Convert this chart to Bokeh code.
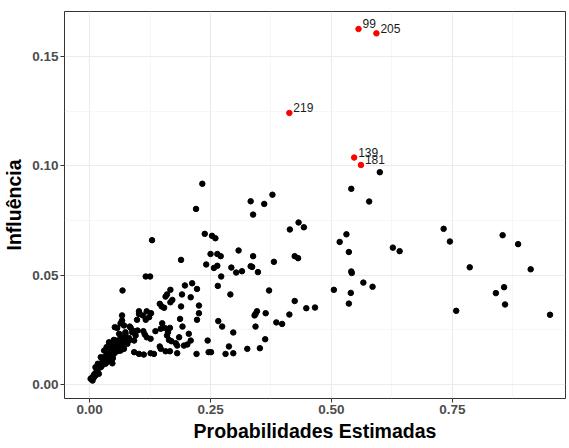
from bokeh.plotting import figure
from bokeh.models import Range1d, FixedTicker, PrintfTickFormatter, ColumnDataSource
from bokeh.core.properties import value
from bokeh.embed import file_html
from bokeh.resources import INLINE

# Estimated probabilities (x) and influence / leverage values (y)
prob = [
    0.233, 0.220, 0.333, 0.338, 0.361, 0.378, 0.238, 0.253, 0.260, 0.414,
    0.432, 0.443, 0.250, 0.264, 0.271, 0.308, 0.338, 0.241, 0.257, 0.264,
    0.293, 0.303, 0.315, 0.333, 0.336, 0.348, 0.381, 0.272, 0.265, 0.291,
    0.371, 0.424, 0.431, 0.424, 0.448, 0.466, 0.413, 0.386, 0.398, 0.343,
    0.346, 0.341, 0.364, 0.343, 0.266, 0.274, 0.297, 0.363, 0.352, 0.326,
    0.288, 0.281, 0.297, 0.244, 0.246, 0.251, 0.221, 0.209, 0.226, 0.222,
    0.226, 0.209, 0.222, 0.212, 0.541, 0.578, 0.600, 0.505, 0.517, 0.531,
    0.536, 0.541, 0.542, 0.540, 0.536, 0.566, 0.585, 0.627, 0.641, 0.732,
    0.745, 0.786, 0.758, 0.854, 0.886, 0.912, 0.840, 0.857, 0.859, 0.952,
    0.129, 0.189, 0.116, 0.125, 0.068, 0.197, 0.167, 0.160, 0.157, 0.171,
    0.167, 0.191, 0.145, 0.149, 0.154, 0.189, 0.102, 0.118, 0.127, 0.123,
    0.098, 0.116, 0.110, 0.067, 0.067, 0.150, 0.155, 0.166, 0.187, 0.192,
    0.136, 0.147, 0.162, 0.085, 0.092, 0.095, 0.111, 0.114, 0.118, 0.126,
    0.074, 0.071, 0.074, 0.067, 0.071, 0.092, 0.083, 0.160, 0.164, 0.169,
    0.205, 0.195, 0.202, 0.178, 0.181, 0.185, 0.145, 0.092, 0.102, 0.112,
    0.126, 0.133, 0.147, 0.157, 0.166, 0.181, 0.064, 0.064, 0.071, 0.083,
    0.088, 0.102, 0.099, 0.052, 0.057, 0.047, 0.074, 0.064, 0.054, 0.047,
    0.057, 0.043, 0.036, 0.030, 0.040, 0.026, 0.033, 0.023, 0.016, 0.019,
    0.009, 0.006, 0.002, 0.012, 0.050, 0.061, 0.043, 0.050, 0.061, 0.030,
    0.035, 0.023, 0.017, 0.012, 0.040, 0.071, 0.078, 0.081, 0.028, 0.038,
    0.045, 0.052, 0.058, 0.020, 0.014, 0.008, 0.004, 0.025, 0.033, 0.042,
    0.055, 0.060, 0.068, 0.048, 0.038, 0.010, 0.015,
]
infl = [
    0.0918, 0.0803, 0.0838, 0.0777, 0.0826, 0.0868, 0.0689, 0.0680, 0.0669, 0.0709,
    0.0741, 0.0719, 0.0597, 0.0597, 0.0587, 0.0613, 0.0587, 0.0549, 0.0533, 0.0543,
    0.0535, 0.0512, 0.0518, 0.0541, 0.0538, 0.0514, 0.0561, 0.0494, 0.0451, 0.0412,
    0.0430, 0.0587, 0.0578, 0.0382, 0.0349, 0.0352, 0.0320, 0.0284, 0.0277, 0.0323,
    0.0335, 0.0316, 0.0326, 0.0265, 0.0290, 0.0265, 0.0238, 0.0207, 0.0166, 0.0163,
    0.0174, 0.0140, 0.0143, 0.0201, 0.0148, 0.0148, 0.0140, 0.0201, 0.0326, 0.0296,
    0.0361, 0.0399, 0.0437, 0.0463, 0.0895, 0.0837, 0.0971, 0.0433, 0.0652, 0.0687,
    0.0606, 0.0517, 0.0510, 0.0419, 0.0370, 0.0466, 0.0447, 0.0626, 0.0610, 0.0712,
    0.0654, 0.0536, 0.0337, 0.0683, 0.0642, 0.0527, 0.0418, 0.0445, 0.0366, 0.0319,
    0.0660, 0.0570, 0.0494, 0.0494, 0.0430, 0.0453, 0.0433, 0.0412, 0.0402, 0.0387,
    0.0376, 0.0412, 0.0369, 0.0357, 0.0351, 0.0357, 0.0335, 0.0335, 0.0326, 0.0308,
    0.0296, 0.0296, 0.0316, 0.0316, 0.0293, 0.0280, 0.0259, 0.0259, 0.0300, 0.0265,
    0.0244, 0.0255, 0.0239, 0.0259, 0.0244, 0.0224, 0.0244, 0.0229, 0.0216, 0.0209,
    0.0239, 0.0216, 0.0193, 0.0178, 0.0163, 0.0201, 0.0204, 0.0224, 0.0204, 0.0198,
    0.0232, 0.0178, 0.0183, 0.0189, 0.0178, 0.0216, 0.0174, 0.0148, 0.0140, 0.0137,
    0.0143, 0.0140, 0.0163, 0.0152, 0.0152, 0.0143, 0.0155, 0.0280, 0.0270, 0.0265,
    0.0239, 0.0323, 0.0247, 0.0262, 0.0259, 0.0097, 0.0232, 0.0216, 0.0201, 0.0186,
    0.0171, 0.0155, 0.0140, 0.0125, 0.0117, 0.0102, 0.0095, 0.0079, 0.0064, 0.0049,
    0.0033, 0.0018, 0.0026, 0.0041, 0.0140, 0.0155, 0.0178, 0.0204, 0.0232, 0.0155,
    0.0171, 0.0125, 0.0095, 0.0079, 0.0193, 0.0201, 0.0186, 0.0213, 0.0110, 0.0130,
    0.0160, 0.0175, 0.0190, 0.0090, 0.0058, 0.0040, 0.0030, 0.0085, 0.0120, 0.0145,
    0.0150, 0.0200, 0.0195, 0.0120, 0.0105, 0.0048, 0.0070,
]

# Highlighted high-influence observations
obs_id = ["99", "205", "219", "139", "181"]
obs_prob = [0.556, 0.593, 0.413, 0.547, 0.561]
obs_infl = [0.1626, 0.1606, 0.1242, 0.1038, 0.1004]

x_ticks = [0.0, 0.25, 0.5, 0.75]
x_minor = [0.125, 0.375, 0.625, 0.875]
y_ticks = [0.0, 0.05, 0.10, 0.15]
y_minor = [0.025, 0.075, 0.125]

FONT = "Liberation Sans"

p = figure(
    width=569, height=448,
    x_range=Range1d(-0.052, 0.984),
    y_range=Range1d(-0.0064, 0.1706),
    output_backend="svg", toolbar_location=None,
    min_border_left=64, min_border_right=4,
    min_border_top=11, min_border_bottom=50,
    background_fill_color="white", border_fill_color="white",
)

p.outline_line_color = "#333333"
p.outline_line_width = 1

for ax, ticks, minor in ((p.xaxis, x_ticks, x_minor), (p.yaxis, y_ticks, y_minor)):
    ax.ticker = FixedTicker(ticks=ticks, minor_ticks=minor)
    ax.formatter = PrintfTickFormatter(format="%.2f")
    ax.axis_line_color = None
    ax.major_tick_line_color = "#333333"
    ax.major_tick_out = 4
    ax.major_tick_in = 0
    ax.minor_tick_line_color = None
    ax.major_label_text_font = FONT
    ax.major_label_text_font_style = "bold"
    ax.major_label_text_font_size = "13.5px"
    ax.major_label_text_color = "#4D4D4D"
    ax.major_label_standoff = 2
    ax.axis_label_text_font = FONT
    ax.axis_label_text_font_style = "bold"
    ax.axis_label_text_font_size = "19.5px"
    ax.axis_label_text_color = "black"

p.xaxis.axis_label = "Probabilidades Estimadas"
p.yaxis.axis_label = "Influência"
p.xaxis.axis_label_standoff = 3
p.yaxis.axis_label_standoff = 4

for g in (p.xgrid, p.ygrid):
    g.grid_line_color = "#EBEBEB"
    g.grid_line_width = 1.1
    g.minor_grid_line_color = "#F2F2F2"
    g.minor_grid_line_width = 0.6

src = ColumnDataSource(dict(x=prob, y=infl))
p.scatter("x", "y", source=src, size=5.5, color="black")

hi = ColumnDataSource(dict(x=obs_prob, y=obs_infl, label=obs_id))
p.scatter("x", "y", source=hi, size=5.5, color="red")
p.text("x", "y", text="label", source=hi, x_offset=4, y_offset=-5,
       text_font_size="12px", text_baseline="middle", text_align="left",
       text_color="#1A1A1A", text_font=value(FONT))

open("out.html", "w").write(file_html(p, INLINE))
